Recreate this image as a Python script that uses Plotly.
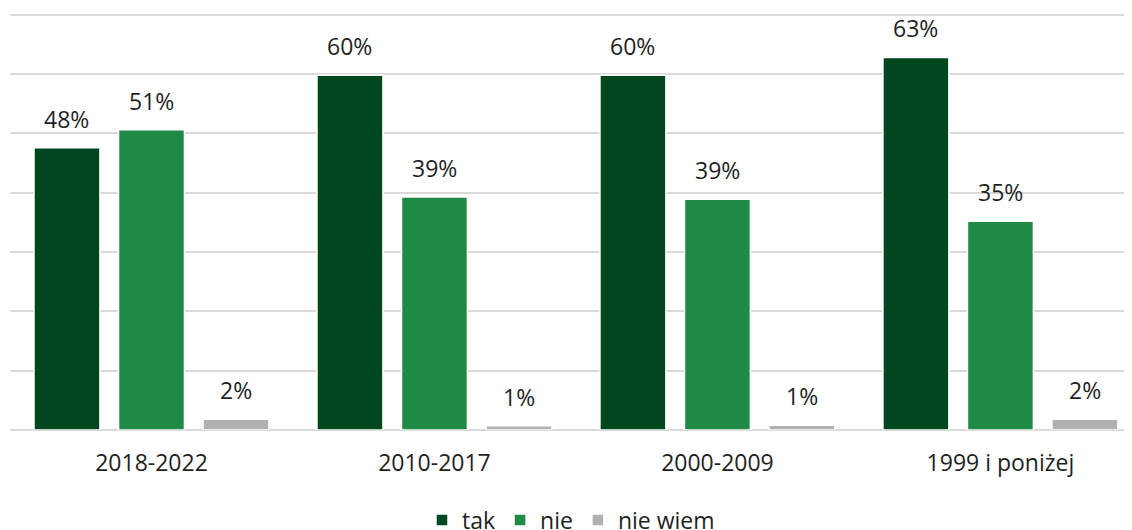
import plotly.graph_objects as go

categories = ["2018-2022", "2010-2017", "2000-2009", "1999 i poniżej"]
series_names = ["tak", "nie", "nie wiem"]
tak = [47.6, 59.8, 59.8, 62.8]
nie = [50.6, 39.3, 38.9, 35.2]
nie_wiem = [1.8, 0.7, 0.8, 1.8]
colors = ["#00461f", "#1f8a45", "#b1b1b1"]

series = [tak, nie, nie_wiem]
bargap = 0.104
bargroupgap = 0.22
font_family = "Open Sans"
text_color = "#1f1f1f"

fig = go.Figure()
for name, vals, col in zip(series_names, series, colors):
    fig.add_trace(go.Bar(
        name=name, x=categories, y=vals,
        marker=dict(color=col, line=dict(color="white", width=1.5)),
    ))

slot = (1 - bargap) / len(series)
annotations = []
for j, vals in enumerate(series):
    for k, v in enumerate(vals):
        annotations.append(dict(
            x=k + (j - 1) * slot, y=v, xref="x", yref="y",
            text=f"{round(v)}%", showarrow=False,
            yanchor="bottom", yshift=11,
            font=dict(family=font_family, size=23, color=text_color),
        ))

fig.update_layout(
    width=1132, height=530,
    margin=dict(l=2, r=8, t=5, b=108, autoexpand=False),
    paper_bgcolor="white", plot_bgcolor="white",
    barmode="group", bargap=bargap, bargroupgap=bargroupgap,
    font=dict(family=font_family, size=23, color=text_color),
    annotations=annotations,
    showlegend=True,
    legend=dict(orientation="h", x=0.5, xanchor="center", y=-0.216, yanchor="middle",
                font=dict(family=font_family, size=23, color=text_color),
                itemwidth=30, tracegroupgap=0),
    xaxis=dict(type="category", range=[-0.5, 3.465], showgrid=False, showline=False,
               ticks="", automargin=False,
               tickfont=dict(family=font_family, size=23, color=text_color),
               ticklabelstandoff=17),
    yaxis=dict(range=[0, 70.3], dtick=10, showticklabels=False, showgrid=True,
               automargin=False,
               gridcolor="#d9d9d9", gridwidth=1.5, zeroline=True,
               zerolinecolor="#d9d9d9", zerolinewidth=2, showline=False),
)

fig.write_html("out.html")
